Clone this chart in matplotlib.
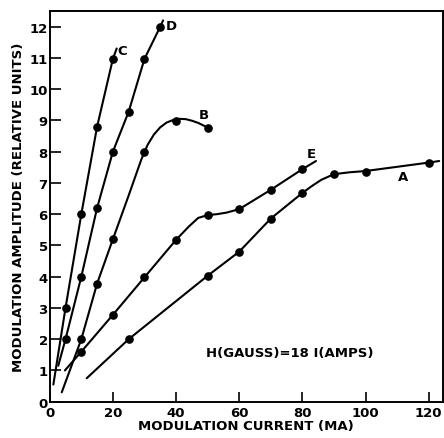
import matplotlib
matplotlib.use("Agg")
import matplotlib.pyplot as plt

# ----------------------------------------------------------------------
# Data (modulation amplitude vs current)
# markers = measured points, path = the hand-drawn line through them
# ----------------------------------------------------------------------
A_x = [25, 50, 60, 70, 80, 90, 100, 120]
A_y = [2.0, 4.03, 4.78, 5.86, 6.69, 7.28, 7.35, 7.65]
A_path_x = [11.7, 25, 50, 60, 70, 80, 83, 86, 90, 95, 100, 120, 123.3]
A_path_y = [0.75, 2.0, 4.03, 4.8, 5.86, 6.68, 6.9, 7.1, 7.28, 7.34, 7.38, 7.65, 7.7]

B_x = [10, 15, 20, 30, 40, 50]
B_y = [2.0, 3.78, 5.2, 8.0, 8.98, 8.77]
B_path_x = [3.8, 10, 15, 20, 25, 29, 31, 33, 35, 37, 39, 41, 43, 45, 47, 50]
B_path_y = [0.3, 2.0, 3.78, 5.2, 6.6, 7.75, 8.22, 8.55, 8.78, 8.93, 9.01, 9.05, 9.04, 8.99, 8.92, 8.77]

C_x = [5, 10, 15, 20]
C_y = [3.0, 6.0, 8.8, 10.97]
C_path_x = [1.15, 5, 10, 15, 20, 21.2]
C_path_y = [0.55, 3.0, 6.0, 8.8, 10.97, 11.3]

D_x = [5, 10, 15, 20, 25, 30, 35]
D_y = [2.0, 4.0, 6.2, 8.0, 9.28, 10.97, 12.0]
D_path_x = [2.7, 5, 10, 15, 20, 25, 30, 35, 35.9]
D_path_y = [1.15, 2.0, 4.0, 6.2, 8.0, 9.28, 10.97, 12.0, 12.2]

E_x = [10, 20, 30, 40, 50, 60, 70, 80]
E_y = [1.6, 2.78, 3.98, 5.18, 5.97, 6.16, 6.78, 7.44]
E_path_x = [4.8, 10, 20, 30, 40, 44, 47, 50, 53, 56, 60, 70, 80, 84.3]
E_path_y = [1.0, 1.6, 2.78, 3.98, 5.18, 5.6, 5.88, 5.97, 6.0, 6.05, 6.16, 6.78, 7.44, 7.7]

# curve label -> (x, y) anchor for the letter
LABELS = {"C": (23.0, 11.25), "D": (38.4, 12.02), "B": (48.7, 9.2),
          "E": (82.9, 7.93), "A": (111.8, 7.22)}

X_TICKS = [0, 20, 40, 60, 80, 100, 120]
Y_TICKS = list(range(0, 13))

FONT = "DejaVu Sans"

fig = plt.figure(figsize=(4.44, 4.39), dpi=100)
ax = fig.add_axes([0.112, 0.0827, 0.8857, 0.89])

curves = [
    (A_path_x, A_path_y, A_x, A_y),
    (B_path_x, B_path_y, B_x, B_y),
    (C_path_x, C_path_y, C_x, C_y),
    (D_path_x, D_path_y, D_x, D_y),
    (E_path_x, E_path_y, E_x, E_y),
]
for px, py, mx, my in curves:
    ax.plot(px, py, color="black", linewidth=1.5, solid_capstyle="round",
            solid_joinstyle="round")
    ax.plot(mx, my, "o", color="black", markersize=5.2)

for name, (lx, ly) in LABELS.items():
    ax.text(lx, ly, name, fontsize=9.5, fontweight="bold", family=FONT,
            ha="center", va="center")

ax.text(76.0, 1.58, "H(GAUSS)=18 I(AMPS)", fontsize=9.5, fontweight="bold",
        family=FONT, ha="center", va="center")

ax.set_xlim(0, 124.5)
ax.set_ylim(0, 12.5)
ax.set_xticks(X_TICKS)
ax.set_yticks(Y_TICKS)
ax.tick_params(axis="x", direction="in", length=7, width=1.2, pad=3,
               labelsize=9.5)
ax.tick_params(axis="y", direction="in", length=8, width=1.2, pad=1.5,
               labelsize=9.5)
for lab in ax.get_xticklabels() + ax.get_yticklabels():
    lab.set_fontweight("bold")
    lab.set_family(FONT)

for sp in ax.spines.values():
    sp.set_linewidth(1.4)

ax.set_xlabel("MODULATION CURRENT (MA)", fontsize=9.5, fontweight="bold",
              family=FONT, labelpad=0)
ax.set_ylabel("MODULATION AMPLITUDE (RELATIVE UNITS)", fontsize=9.5,
              fontweight="bold", family=FONT, labelpad=3)

fig.savefig("out.png", dpi=100)
